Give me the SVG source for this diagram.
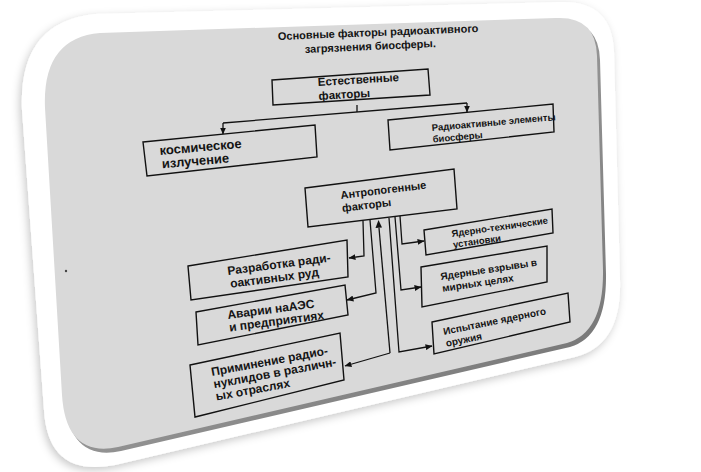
<svg xmlns="http://www.w3.org/2000/svg" width="701" height="472" viewBox="0 0 701 472">
<defs>
<style>
.box{fill:none;stroke:#111;stroke-width:1.4;stroke-linejoin:miter}
.t{font-family:"Liberation Sans",Arial,sans-serif;font-weight:bold;fill:#141414}
.c{fill:none;stroke:#111;stroke-width:1.3}
.ca{fill:none;stroke:#111;stroke-width:1.3;marker-end:url(#ah)}
</style>
<marker id="ah" viewBox="0 0 8 7" refX="7.5" refY="3.5" markerWidth="7" markerHeight="6" markerUnits="userSpaceOnUse" orient="auto-start-reverse">
<path d="M0,0 L8,3.5 L0,7 Z" fill="#111"/>
</marker>
<filter id="sh" x="-10%" y="-10%" width="120%" height="120%">
<feDropShadow dx="-2" dy="3" stdDeviation="4" flood-color="#000" flood-opacity="0.22"/>
</filter>
<linearGradient id="bev" x1="0" y1="0" x2="1" y2="1">
<stop offset="0" stop-color="#bdbdbd"/>
<stop offset="1" stop-color="#6e6e6e"/>
</linearGradient>
</defs>
<rect width="701" height="472" fill="#fff"/>
<g id="panel">
<path d="M95,14 L560,2 Q612,0 614,52 L620,280 Q622,345 575,357 L115,465 Q48,478 44,410 L22,110 Q18,22 95,14 Z" fill="#fff" filter="url(#sh)"/>
<path d="M100,33 L556,18 Q596,16 597,56 L603,270 Q604,332 567,343 L118,447 Q66,458 62,395 L45,108 Q42,38 100,33 Z" fill="url(#bev)" transform="translate(3,4)"/>
<path d="M100,33 L556,18 Q596,16 597,56 L603,270 Q604,332 567,343 L118,447 Q66,458 62,395 L45,108 Q42,38 100,33 Z" fill="#d9d9d9"/>
<circle cx="66" cy="271" r="1.2" fill="#444"/>
</g>
<g id="title">
<text class="t" font-size="11" transform="translate(278,40) rotate(-2.3)">Основные факторы радиоактивного</text>
<text class="t" font-size="11" transform="translate(305,53) rotate(-2.6)">загрязнения биосферы.</text>
</g>
<g id="connectors">
<path class="c" d="M357,105 L357,112"/>
<path class="c" d="M223,123 L467,103"/>
<path class="ca" d="M223,123 L223,134"/>
<path class="ca" d="M467,103 L467,112"/>
<path class="ca" d="M363,221 L364,256 L349,258"/>
<path class="ca" d="M370,220 L376,293 L347,300"/>
<path class="ca" d="M390,353 L345,366"/>
<path class="c" d="M379,228 L390,353" />
<path d="M378.5,220 L375.5,228 L382,227.5 Z" fill="#111"/>
<path class="ca" d="M389,218 L399,352 L432,346"/>
<path class="ca" d="M395,217 L401,290 L421,287"/>
<path class="ca" d="M400,216 L402,244 L424,241"/>
</g>
<g id="n-natural">
<polygon class="box" points="272,80 428,69 430,95 273,105"/>
<text class="t" font-size="11.5" transform="translate(318,86) rotate(-3.5)"><tspan x="0" y="0">Естественные</tspan><tspan x="0" y="14">факторы</tspan></text>
</g>
<g id="n-cosmic">
<polygon class="box" points="143,142 315,125 317,157 147,176"/>
<text class="t" font-size="13" transform="translate(160,155) rotate(-5)"><tspan x="0" y="0">космическое</tspan><tspan x="1" y="13.5">излучение</tspan></text>
</g>
<g id="n-radio">
<polygon class="box" points="388,120 553,104 554,132 390,150"/>
<text class="t" font-size="9.5" transform="translate(432,131) rotate(-5)"><tspan x="0" y="0">Радиоактивные элементы</tspan><tspan x="0" y="11.5">биосферы</tspan></text>
</g>
<g id="n-anthro">
<polygon class="box" points="305,188 454,169 457,209 308,227"/>
<text class="t" font-size="11" transform="translate(341,199) rotate(-7)"><tspan x="0" y="0">Антропогенные</tspan><tspan x="0" y="13">факторы</tspan></text>
</g>
<g id="n-tech">
<polygon class="box" points="424,230 552,209 553,233 426,255"/>
<text class="t" font-size="9.5" transform="translate(452,237) rotate(-8)"><tspan x="0" y="0">Ядерно-технические</tspan><tspan x="0" y="11">установки</tspan></text>
</g>
<g id="n-peaceful">
<polygon class="box" points="421,267 547,246 547,282 422,307"/>
<text class="t" font-size="10" transform="translate(441,280) rotate(-8.5)"><tspan x="0" y="0">Ядерные взрывы в</tspan><tspan x="0" y="12">мирных целях</tspan></text>
</g>
<g id="n-test">
<polygon class="box" points="432,322 568,293 570,322 434,354"/>
<text class="t" font-size="10" transform="translate(444,335) rotate(-11.5)"><tspan x="0" y="0">Испытание ядерного</tspan><tspan x="0" y="12">оружия</tspan></text>
</g>
<g id="n-mining">
<polygon class="box" points="188,266 347,240 348,277 191,300"/>
<text class="t" font-size="12" transform="translate(228,275) rotate(-7.5)"><tspan x="0" y="0">Разработка ради-</tspan><tspan x="1" y="13">оактивных руд</tspan></text>
</g>
<g id="n-accidents">
<polygon class="box" points="196,312 345,285 348,315 198,345"/>
<text class="t" font-size="12" transform="translate(228,319) rotate(-7.5)"><tspan x="0" y="0">Аварии наАЭС</tspan><tspan x="0" y="12.5">и предприятиях</tspan></text>
</g>
<g id="n-use">
<polygon class="box" points="190,365 340,333 344,380 195,417"/>
<text class="t" font-size="12" transform="translate(212,376) rotate(-10.5)"><tspan x="0" y="0">Приминение радио-</tspan><tspan x="0" y="12.5">нуклидов в различн-</tspan><tspan x="0" y="25">ых отраслях</tspan></text>
</g>
</svg>
